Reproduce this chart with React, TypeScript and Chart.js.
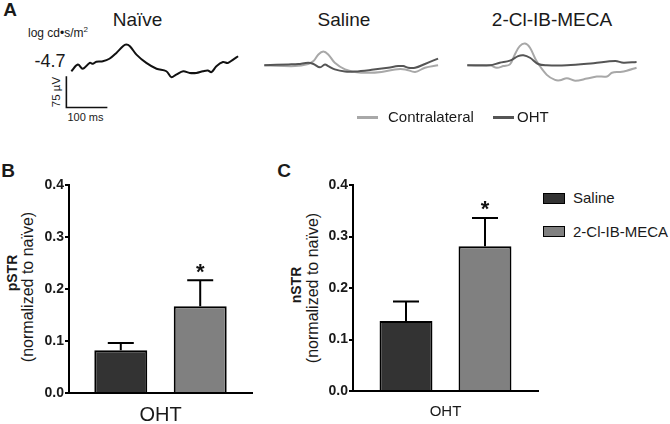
import React, { useEffect, useRef } from 'react';
import { Chart, registerables } from 'chart.js';

Chart.register(...registerables);

const FONT = '"Liberation Sans", Arial, Helvetica, sans-serif';
Chart.defaults.font.family = FONT;
Chart.defaults.color = '#1a1a1a';

// ---------- Panel A: ERG traces (time in ms, amplitude in µV, relative to trace start) ----------
const NAIVE_T = [0, 16, 28, 45, 53, 61, 77, 93, 110, 126, 134, 143, 159, 183, 208, 232, 244, 256, 273, 289, 305, 321, 333, 342, 354, 370, 382, 395, 407];
const NAIVE_V = [0, 16, 6, 20, 18, 23, 24, 30, 44, 60, 64, 60, 40, 20, 6, 0, -14, -8, 0, -4, -4, 0, 2, -2, 12, 22, 20, 28, 36];

const SAL_OHT_T = [0, 59, 83, 107, 120, 136, 148, 156, 172, 197, 221, 262, 302, 327, 339, 351, 368, 392, 424];
const SAL_OHT_V = [0, 2, 3, 6, 3, -5, 2, -2, -10, -15, -15, -11, -6, -2, -2, -6, -6, 3, 16];
const SAL_CON_T = [0, 75, 107, 120, 132, 144, 156, 172, 197, 221, 253, 286, 319, 344, 368, 392, 424];
const SAL_CON_V = [0, -2, 3, 10, 26, 33, 26, 6, -10, -16, -18, -16, -10, -10, -16, -6, 0];

const CL_OHT_T = [0, 55, 79, 104, 124, 137, 153, 173, 194, 243, 308, 361, 381, 413];
const CL_OHT_V = [0, 0, 6, 11, 22, 24, 18, 3, 0, 0, 5, 10, 6, 8];
const CL_CON_T = [0, 55, 72, 88, 104, 116, 128, 141, 153, 169, 194, 214, 226, 243, 263, 292, 316, 341, 353, 373, 389, 413];
const CL_CON_V = [0, 0, -6, -2, 2, 26, 46, 52, 42, 10, -23, -35, -36, -31, -37, -32, -27, -27, -18, -16, -13, -6];

const TRACE_PANELS = ['Naïve', 'Saline', '2-Cl-IB-MECA'];
const TRACE_LEGEND = ['Contralateral', 'OHT'];
const FLASH_LABEL = '-4.7';
const SCALE_BAR_MS = 100;
const SCALE_BAR_UV = 75;
const SCALE_BAR_T0 = -12;
const SCALE_BAR_V0 = -12;

const NAIVE_COLOR = '#111111';
const CONTRA_COLOR = '#a8a8a8';
const OHT_COLOR = '#555555';

// ---------- Panels B & C: bars ----------
const CATEGORY = ['OHT'];
const GROUPS = ['Saline', '2-Cl-IB-MECA'];
const PSTR_MEAN = [0.082, 0.167];
const PSTR_SEM = [0.014, 0.050];
const NSTR_MEAN = [0.136, 0.281];
const NSTR_SEM = [0.038, 0.055];
const SIG = ['', '*'];
const Y_TICKS = [0, 0.1, 0.2, 0.3, 0.4];
const BAR_COLORS = ['#333333', '#808080'];

// trace canvas geometry (shared scale for all traces)
const MS_PER_PX = 2.44;
const UV_PER_PX = 2.4;
const TR_W = 188;
const TR_H = 90;
const TR_XMIN = -30;
const TR_XMAX = TR_XMIN + TR_W * MS_PER_PX;
const TR_YMAX = 75;
const TR_YMIN = TR_YMAX - TR_H * UV_PER_PX;

type Trace = { t: number[]; v: number[]; color: string; order: number };

function TraceChart({ left, top, traces, scaleBar }: { left: number; top: number; traces: Trace[]; scaleBar?: boolean }) {
  const ref = useRef<HTMLCanvasElement | null>(null);
  useEffect(() => {
    const plugins: any[] = [];
    if (scaleBar) {
      plugins.push({
        id: 'scaleBar',
        afterDraw(chart: any) {
          const xs = chart.scales.x;
          const ys = chart.scales.y;
          const ctx = chart.ctx;
          const x0 = xs.getPixelForValue(SCALE_BAR_T0);
          const x1 = xs.getPixelForValue(SCALE_BAR_T0 + SCALE_BAR_MS);
          const y0 = ys.getPixelForValue(SCALE_BAR_V0);
          const y1 = ys.getPixelForValue(SCALE_BAR_V0 - SCALE_BAR_UV);
          ctx.save();
          ctx.strokeStyle = '#111';
          ctx.lineWidth = 1.6;
          ctx.beginPath();
          ctx.moveTo(x0, y0);
          ctx.lineTo(x0, y1);
          ctx.lineTo(x1, y1);
          ctx.stroke();
          ctx.restore();
        },
      });
    }
    const chart = new Chart(ref.current as HTMLCanvasElement, {
      type: 'line',
      data: {
        datasets: traces.map((tr) => ({
          data: tr.t.map((t, i) => ({ x: t, y: tr.v[i] })),
          borderColor: tr.color,
          borderWidth: 2,
          pointRadius: 0,
          tension: 0.35,
          fill: false,
          clip: false as any,
          order: tr.order,
        })),
      },
      options: {
        animation: false,
        responsive: false,
        events: [],
        layout: { padding: 0 },
        plugins: { legend: { display: false }, tooltip: { enabled: false } },
        scales: {
          x: { type: 'linear', display: false, min: TR_XMIN, max: TR_XMAX },
          y: { type: 'linear', display: false, min: TR_YMIN, max: TR_YMAX },
        },
      },
      plugins,
    } as any);
    return () => chart.destroy();
  }, []);
  return (
    <canvas
      ref={ref}
      width={TR_W}
      height={TR_H}
      style={{ position: 'absolute', left, top, width: TR_W, height: TR_H }}
    />
  );
}

const errorBarPlugin = (sems: number[], sig: string[]) => ({
  id: 'errorBars',
  afterDatasetsDraw(chart: any) {
    const ctx = chart.ctx;
    const ys = chart.scales.y;
    ctx.save();
    chart.data.datasets.forEach((ds: any, i: number) => {
      const meta = chart.getDatasetMeta(i);
      const bar = meta.data[0];
      const top = ys.getPixelForValue(ds.data[0] + sems[i]);
      ctx.strokeStyle = '#000';
      ctx.lineWidth = 2;
      ctx.beginPath();
      ctx.moveTo(bar.x, bar.y);
      ctx.lineTo(bar.x, top);
      ctx.moveTo(bar.x - 13, top);
      ctx.lineTo(bar.x + 13, top);
      ctx.stroke();
      if (sig[i]) {
        ctx.fillStyle = '#111';
        ctx.font = `bold 22px ${FONT}`;
        ctx.textAlign = 'center';
        ctx.textBaseline = 'alphabetic';
        ctx.fillText(sig[i], bar.x, top - 1.5);
      }
    });
    ctx.restore();
  },
});

function BarChart(props: {
  left: number; top: number; width: number; height: number;
  means: number[]; sems: number[];
  yAxisW: number; xAxisH: number; padTop: number; padRight: number;
  catPct: number; barPct: number; xFont: number; xPad: number;
}) {
  const ref = useRef<HTMLCanvasElement | null>(null);
  useEffect(() => {
    const p = props;
    const chart = new Chart(ref.current as HTMLCanvasElement, {
      type: 'bar',
      data: {
        labels: CATEGORY,
        datasets: GROUPS.map((g, i) => ({
          label: g,
          data: [p.means[i]],
          backgroundColor: BAR_COLORS[i],
          borderColor: '#000',
          borderWidth: 2,
          categoryPercentage: p.catPct,
          barPercentage: p.barPct,
        })),
      },
      options: {
        animation: false,
        responsive: false,
        events: [],
        layout: { padding: { left: 0, top: p.padTop, right: p.padRight, bottom: 0 } },
        plugins: { legend: { display: false }, tooltip: { enabled: false } },
        scales: {
          x: {
            grid: { display: false, drawTicks: false },
            border: { display: true, color: '#000', width: 2 },
            ticks: { font: { size: p.xFont }, color: '#1a1a1a', padding: p.xPad },
            afterFit(s: any) { s.height = p.xAxisH; },
          },
          y: {
            min: 0,
            max: 0.4,
            afterBuildTicks(s: any) { s.ticks = Y_TICKS.map((v) => ({ value: v })); },
            ticks: {
              font: { size: 14, weight: 'bold' },
              color: '#1a1a1a',
              padding: 1,
              callback: (v: any) => Number(v).toFixed(1),
            },
            grid: { drawOnChartArea: false, drawTicks: true, tickLength: 4, color: '#000', lineWidth: 2 },
            border: { display: true, color: '#000', width: 2 },
            afterFit(s: any) { s.width = p.yAxisW; },
          },
        },
      },
      plugins: [errorBarPlugin(p.sems, SIG)],
    } as any);
    return () => chart.destroy();
  }, []);
  return (
    <canvas
      ref={ref}
      width={props.width}
      height={props.height}
      style={{ position: 'absolute', left: props.left, top: props.top, width: props.width, height: props.height }}
    />
  );
}

function Txt({ x, y, children, size, bold = false, rotate = false, align = 'center', color = '#1a1a1a' }: any) {
  const tx = align === 'center' ? '-50%' : align === 'left' ? '0' : '-100%';
  return (
    <div
      style={{
        position: 'absolute',
        left: x,
        top: y,
        transform: `translate(${tx},-50%)${rotate ? ' rotate(-90deg)' : ''}`,
        fontSize: size,
        fontWeight: bold ? 700 : 400,
        fontFamily: FONT,
        whiteSpace: 'nowrap',
        lineHeight: 1.15,
        color,
      }}
    >
      {children}
    </div>
  );
}

export default function App() {
  const contra = (t: number[], v: number[]): Trace => ({ t, v, color: CONTRA_COLOR, order: 2 });
  const oht = (t: number[], v: number[]): Trace => ({ t, v, color: OHT_COLOR, order: 1 });
  const offX = -TR_XMIN / MS_PER_PX;
  const offY = TR_YMAX / UV_PER_PX;
  return (
    <div style={{ position: 'absolute', left: 0, top: 0, width: 670, height: 424, background: '#fff', overflow: 'hidden', fontFamily: FONT }}>
      {/* Panel A */}
      <Txt x={10} y={10} size={19} bold>A</Txt>
      <Txt x={137.5} y={20} size={19}>{TRACE_PANELS[0]}</Txt>
      <Txt x={344} y={20} size={19}>{TRACE_PANELS[1]}</Txt>
      <Txt x={552} y={20} size={19}>{TRACE_PANELS[2]}</Txt>
      <Txt x={28} y={33} size={12} align="left">
        log cd•s/m<sup style={{ fontSize: 8 }}>2</sup>
      </Txt>
      <Txt x={50} y={61} size={18}>{FLASH_LABEL}</Txt>
      <Txt x={56.5} y={91.5} size={11.5} rotate>{SCALE_BAR_UV} µV</Txt>
      <Txt x={85.5} y={116.5} size={11}>{SCALE_BAR_MS} ms</Txt>

      <TraceChart left={71.7 - offX} top={71.7 - offY} traces={[{ t: NAIVE_T, v: NAIVE_V, color: NAIVE_COLOR, order: 1 }]} scaleBar />
      <TraceChart left={264.3 - offX} top={65.7 - offY} traces={[oht(SAL_OHT_T, SAL_OHT_V), contra(SAL_CON_T, SAL_CON_V)]} />
      <TraceChart left={467.3 - offX} top={65.7 - offY} traces={[oht(CL_OHT_T, CL_OHT_V), contra(CL_CON_T, CL_CON_V)]} />

      <div style={{ position: 'absolute', left: 357, top: 115.5, width: 21, height: 3, background: CONTRA_COLOR }} />
      <Txt x={388} y={117} size={15} align="left">{TRACE_LEGEND[0]}</Txt>
      <div style={{ position: 'absolute', left: 493, top: 115.5, width: 21, height: 3, background: OHT_COLOR }} />
      <Txt x={517} y={117} size={15} align="left">{TRACE_LEGEND[1]}</Txt>

      {/* Panel B */}
      <Txt x={8} y={171} size={19} bold>B</Txt>
      <Txt x={11.5} y={273} size={14} bold rotate>pSTR</Txt>
      <Txt x={27.5} y={287} size={16} rotate>(normalized to naïve)</Txt>
      <BarChart left={0} top={160} width={270} height={264} means={PSTR_MEAN} sems={PSTR_SEM}
        yAxisW={69} xAxisH={31} padTop={25} padRight={18} catPct={0.868} barPct={0.667} xFont={20} xPad={10} />

      {/* Panel C */}
      <Txt x={284} y={171} size={19} bold>C</Txt>
      <Txt x={296} y={285} size={14} bold rotate>nSTR</Txt>
      <Txt x={313} y={287.5} size={16} rotate>(normalized to naïve)</Txt>
      <BarChart left={280} top={160} width={260} height={264} means={NSTR_MEAN} sems={NSTR_SEM}
        yAxisW={73} xAxisH={33} padTop={25} padRight={2} catPct={0.854} barPct={0.67} xFont={15} xPad={12} />

      {GROUPS.map((g, i) => (
        <React.Fragment key={g}>
          <div style={{ position: 'absolute', left: 542.5, top: i === 0 ? 192.5 : 226, width: 22, height: 11, boxSizing: 'border-box', background: BAR_COLORS[i], border: '1.5px solid #000' }} />
          <Txt x={573} y={i === 0 ? 197.5 : 231.5} size={15} align="left">{g}</Txt>
        </React.Fragment>
      ))}
    </div>
  );
}
